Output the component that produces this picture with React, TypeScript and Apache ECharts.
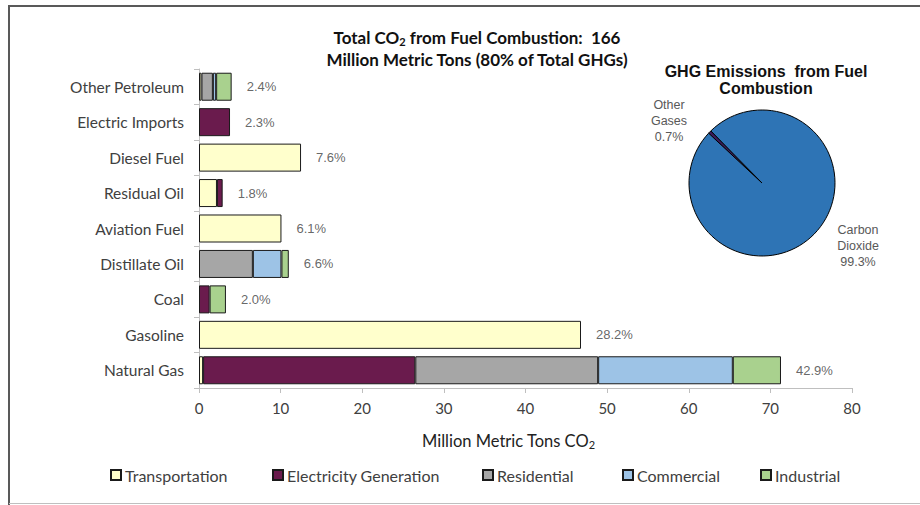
import React, { useEffect, useRef } from "react";
import * as echarts from "echarts";

const categories = [
  "Other Petroleum",
  "Electric Imports",
  "Diesel Fuel",
  "Residual Oil",
  "Aviation Fuel",
  "Distillate Oil",
  "Coal",
  "Gasoline",
  "Natural Gas",
];
const transportation = [0.3, null, 12.5, 2.2, 10.1, null, null, 46.8, 0.5];
const electricity = [null, 3.8, null, 0.7, null, null, 1.3, null, 26.0];
const residential = [1.4, null, null, null, null, 6.6, null, null, 22.4];
const commercial = [0.4, null, null, null, null, 3.5, null, null, 16.5];
const industrial = [1.9, null, null, null, null, 0.9, 2.0, null, 5.9];
const shareLabels = ["2.4%", "2.3%", "7.6%", "1.8%", "6.1%", "6.6%", "2.0%", "28.2%", "42.9%"];

const seriesNames = ["Transportation", "Electricity Generation", "Residential", "Commercial", "Industrial"];
const seriesColors = ["#FFFFCC", "#6A1B4D", "#A6A6A6", "#9DC3E6", "#A9D18E"];
const seriesData = [transportation, electricity, residential, commercial, industrial];

const pieNames = ["Other Gases", "Carbon Dioxide"];
const pieValues = [0.7, 99.3];
const pieColors = ["#3D1A5C", "#2E74B5"];

const legendLefts = [105, 267, 477, 617, 755];

const FONT = "Lato, 'Open Sans', sans-serif";
const ARIAL = "'Liberation Sans', Arial, sans-serif";

export default function App() {
  const ref = useRef<HTMLDivElement>(null);
  useEffect(() => {
    if (!ref.current) return;
    const chart = echarts.init(ref.current, null, { renderer: "svg" });
    const totals = categories.map((_, i) =>
      seriesData.reduce((s, arr) => s + ((arr[i] as number) || 0), 0)
    );
    const barSeries = seriesData.map((arr, k) => ({
      name: seriesNames[k],
      type: "bar",
      stack: "total",
      barCategoryGap: "21%",
      data: arr,
      itemStyle: { color: seriesColors[k], borderColor: "#1a1a1a", borderWidth: 1 },
    }));
    const option: any = {
      animation: false,
      backgroundColor: "#ffffff",
      title: [
        {
          text:
            "{b|Total CO}{s|2}{b| from Fuel Combustion:  166}\n{b|Million Metric Tons (80% of Total GHGs)}",
          left: 472,
          top: 21,
          textAlign: "center",
          textStyle: {
            rich: {
              b: { fontFamily: FONT, fontWeight: "bold", fontSize: 17, color: "#111", lineHeight: 22 },
              s: { fontFamily: FONT, fontWeight: "bold", fontSize: 11, color: "#111", lineHeight: 14, padding: [8, 0, 0, 0] },
            },
          },
        },
        {
          text: "GHG Emissions  from Fuel\nCombustion",
          left: 761,
          top: 58,
          textAlign: "center",
          textStyle: { fontFamily: ARIAL, fontWeight: "bold", fontSize: 16, color: "#111", lineHeight: 17 },
        },
      ],
      legend: seriesNames.map((n, i) => ({
        data: [n],
        left: legendLefts[i],
        top: 462,
        icon: "rect",
        itemWidth: 10,
        itemHeight: 10,
        textStyle: { fontFamily: FONT, fontSize: 16, color: "#404040", padding: [0, 0, 0, -1] },
      })),
      grid: { left: 199, right: 68, top: 69, bottom: 117 },
      xAxis: {
        type: "value",
        min: 0,
        max: 80,
        interval: 10,
        name: "{a|Million Metric Tons CO}{s|2}",
        nameLocation: "middle",
        nameGap: 43,
        nameTextStyle: {
          padding: [0, 34, 0, 0],
          rich: {
            a: { fontFamily: FONT, fontSize: 16.5, color: "#222", lineHeight: 20 },
            s: { fontFamily: FONT, fontSize: 11, color: "#222", lineHeight: 13, padding: [7, 0, 0, 0] },
          },
        },
        axisLine: { show: true, lineStyle: { color: "#BFBFBF" } },
        axisTick: { show: true, length: 5, lineStyle: { color: "#BFBFBF" } },
        axisLabel: { fontFamily: FONT, fontSize: 15, color: "#404040", margin: 12 },
        splitLine: { show: false },
      },
      yAxis: {
        type: "category",
        data: categories,
        inverse: true,
        axisLine: { show: true, lineStyle: { color: "#BFBFBF" } },
        axisTick: { show: true, length: 5, lineStyle: { color: "#BFBFBF" } },
        axisLabel: { fontFamily: FONT, fontSize: 15.5, color: "#404040", margin: 15 },
      },
      series: [
        ...barSeries,
        {
          name: "share",
          type: "scatter",
          symbolSize: 0,
          data: totals.map((t, i) => [t, i]),
          label: {
            show: true,
            position: "right",
            distance: 15,
            formatter: (p: any) => shareLabels[p.dataIndex],
            fontFamily: ARIAL,
            fontSize: 13,
            color: "#404040",
          },
          tooltip: { show: false },
        },
        {
          name: "ghg",
          type: "pie",
          center: [762, 183],
          radius: 73,
          startAngle: 137,
          data: pieNames.map((n, i) => ({ name: n, value: pieValues[i], itemStyle: { color: pieColors[i] } })),
          itemStyle: { borderColor: "#000", borderWidth: 1 },
          label: {
            show: true,
            formatter: (p: any) => p.name.replace(" ", "\n") + "\n" + p.value + "%",
            fontFamily: ARIAL,
            fontSize: 12.5,
            color: "#595959",
            lineHeight: 16,
            align: "center",
          },
          labelLine: { show: false },
          labelLayout: (p: any) =>
            p.dataIndex === 0
              ? { x: 669, y: 121, align: "center", verticalAlign: "middle" }
              : { x: 858, y: 246, align: "center", verticalAlign: "middle" },
          emphasis: { disabled: true },
        },
      ],
      graphic: [
        { type: "line", shape: { x1: 9, y1: 6, x2: 9, y2: 505 }, style: { stroke: "#595959", lineWidth: 2 } },
        { type: "line", shape: { x1: 8, y1: 6, x2: 920, y2: 6 }, style: { stroke: "#595959", lineWidth: 2 } },
        { type: "line", shape: { x1: 9, y1: 503.5, x2: 920, y2: 503.5 }, style: { stroke: "#BFBFBF", lineWidth: 1 } },
      ],
    };
    chart.setOption(option);
    return () => chart.dispose();
  }, []);
  return (
    <div
      ref={ref}
      style={{ position: "fixed", left: 0, top: 0, width: 920, height: 505, background: "#fff" }}
    />
  );
}
